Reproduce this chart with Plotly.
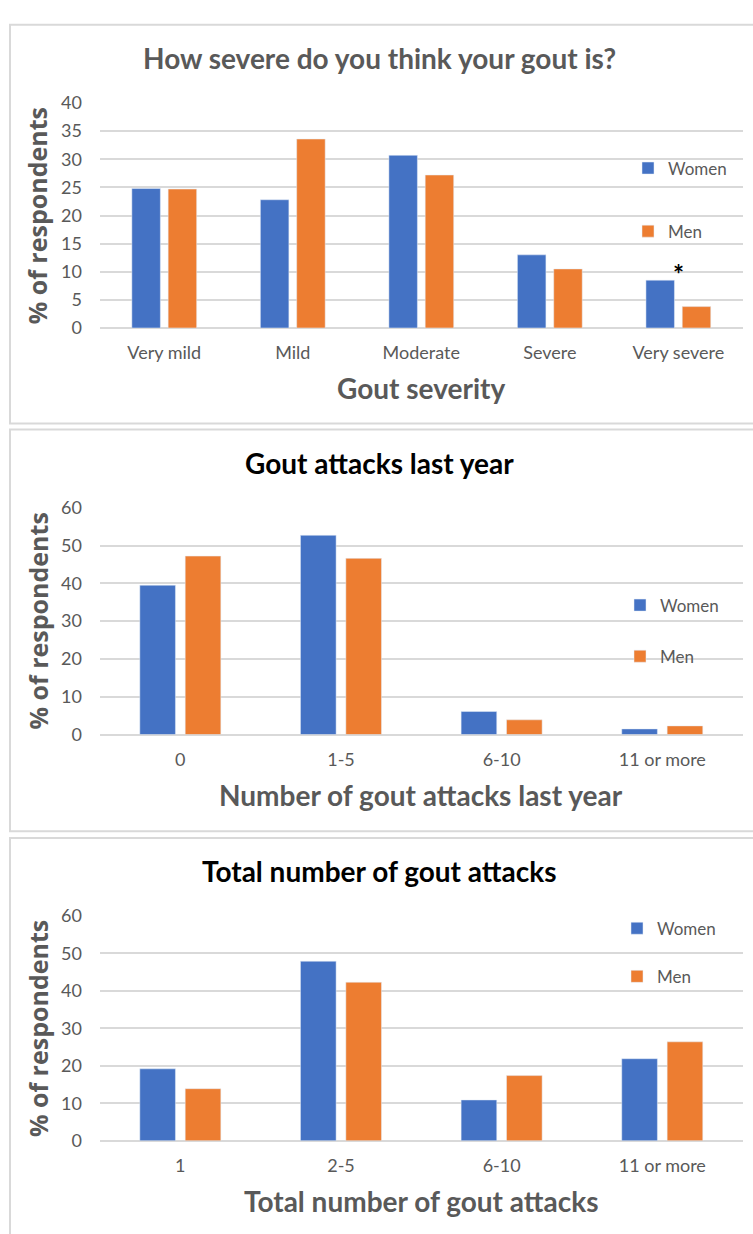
import plotly.graph_objects as go

# ---------------- data ----------------
severity_cats = ["Very mild", "Mild", "Moderate", "Severe", "Very severe"]
severity_women = [24.8, 22.8, 30.7, 13.0, 8.5]
severity_men = [24.7, 33.6, 27.2, 10.5, 3.8]

lastyear_cats = ["0", "1-5", "6-10", "11 or more"]
lastyear_women = [39.5, 52.7, 6.1, 1.5]
lastyear_men = [47.2, 46.6, 3.9, 2.3]

total_cats = ["1", "2-5", "6-10", "11 or more"]
total_women = [19.2, 47.9, 10.9, 21.9]
total_men = [13.9, 42.3, 17.4, 26.4]

titles = ["How severe do you think your gout is?", "Gout attacks last year", "Total number of gout attacks"]
xtitles = ["Gout severity", "Number of gout attacks last year", "Total number of gout attacks"]
ytitle = "% of respondents"
star_label = "*"
star_y = 9.6

# ---------------- layout helpers ----------------
W, H = 753, 1234
def px(x):
    return x / W
def py(y):
    return 1 - y / H

BLUE = "#4472C4"
ORANGE = "#ED7D31"
GRAY = "#595959"
GRID = "#d9d9d9"
FONT = "Lato"

fig = go.Figure()

panels = [
    (severity_cats, severity_women, severity_men, "x", "y", 40, 5, 321.7, 92.7, "legend"),
    (lastyear_cats, lastyear_women, lastyear_men, "x2", "y2", 60, 10, 735.7, 504.7, "legend2"),
    (total_cats, total_women, total_men, "x3", "y3", 60, 10, 1149.3, 920.3, "legend3"),
]

for i, (cats, w, m, xa, ya, ymax, dt, ybot, ytop, leg) in enumerate(panels):
    fig.add_trace(go.Bar(x=cats, y=w, name="Women", marker_color=BLUE, xaxis=xa, yaxis=ya,
                         legend=leg, legendgroup=f"w{i}"))
    fig.add_trace(go.Bar(x=cats, y=m, name="Men", marker_color=ORANGE, xaxis=xa, yaxis=ya,
                         legend=leg, legendgroup=f"m{i}"))
    sfx = "" if i == 0 else str(i + 1)
    fig.layout["xaxis" + sfx] = dict(
        domain=[px(100), px(742.6)], anchor="y" + sfx, showgrid=False, showline=False,
        zeroline=False, ticks="", ticklabelstandoff=12,
        tickfont=dict(family=FONT, size=18, color=GRAY), fixedrange=True)
    fig.layout["yaxis" + sfx] = dict(
        domain=[py(ybot), py(ytop)], anchor="x" + sfx, range=[0, ymax], dtick=dt,
        showgrid=True, gridcolor=GRID, gridwidth=1.5, zeroline=True, zerolinecolor=GRID,
        zerolinewidth=1.5, showline=False, ticks="", ticklabelstandoff=17,
        tickfont=dict(family=FONT, size=18, color=GRAY), fixedrange=True)

annotations = []
title_pos = [(379.5, 47, GRAY), (379.5, 459, "black"), (379.5, 875, "black")]
xtitle_pos = [(421.3, 383), (421.3, 797), (421.3, 1210.5)]
ytitle_pos = [(36.5, 207.5), (37.5, 620), (37.5, 1035)]
for t, (x, y, c) in zip(titles, title_pos):
    annotations.append(dict(text=t, x=px(x), y=py(y), xref="paper", yref="paper",
                            showarrow=False, xanchor="center", yanchor="middle",
                            font=dict(family=FONT, size=28, color=c, weight="bold")))
for t, (x, y) in zip(xtitles, xtitle_pos):
    annotations.append(dict(text=t, x=px(x), y=py(y), xref="paper", yref="paper",
                            showarrow=False, xanchor="center", yanchor="middle",
                            font=dict(family=FONT, size=28, color=GRAY, weight="bold")))
for (x, y) in ytitle_pos:
    annotations.append(dict(text=ytitle, x=px(x), y=py(y), xref="paper", yref="paper",
                            showarrow=False, xanchor="center", yanchor="middle", textangle=-90,
                            font=dict(family="Open Sans", size=25, color=GRAY, weight="bold")))
annotations.append(dict(text=star_label, x=severity_cats[-1], y=star_y, xref="x", yref="y",
                        showarrow=False, xanchor="center", yanchor="middle",
                        font=dict(family=FONT, size=26, color="black", weight="bold")))

shapes = []
for (y0, y1) in [(13, 419), (425, 834), (841, 1260)]:
    shapes.append(dict(type="rect", xref="paper", yref="paper", x0=px(10), x1=px(800),
                       y0=py(y0), y1=py(y1), line=dict(color=GRID, width=2),
                       fillcolor="rgba(0,0,0,0)", layer="below"))

leg_common = dict(traceorder="grouped", orientation="v", xanchor="left", yanchor="top",
                  bgcolor="rgba(0,0,0,0)", borderwidth=0,
                  font=dict(family=FONT, size=17, color=GRAY), itemclick=False, itemdoubleclick=False)

fig.update_layout(
    width=W, height=H, margin=dict(l=0, r=0, t=0, b=0),
    paper_bgcolor="white", plot_bgcolor="white",
    bargap=0.435, bargroupgap=0.215, barmode="group",
    annotations=annotations, shapes=shapes,
    legend=dict(x=px(628), y=py(141), tracegroupgap=38, **leg_common),
    legend2=dict(x=px(620), y=py(586), tracegroupgap=26, **leg_common),
    legend3=dict(x=px(617), y=py(915), tracegroupgap=23, **leg_common),
)

fig.write_html("out.html")
